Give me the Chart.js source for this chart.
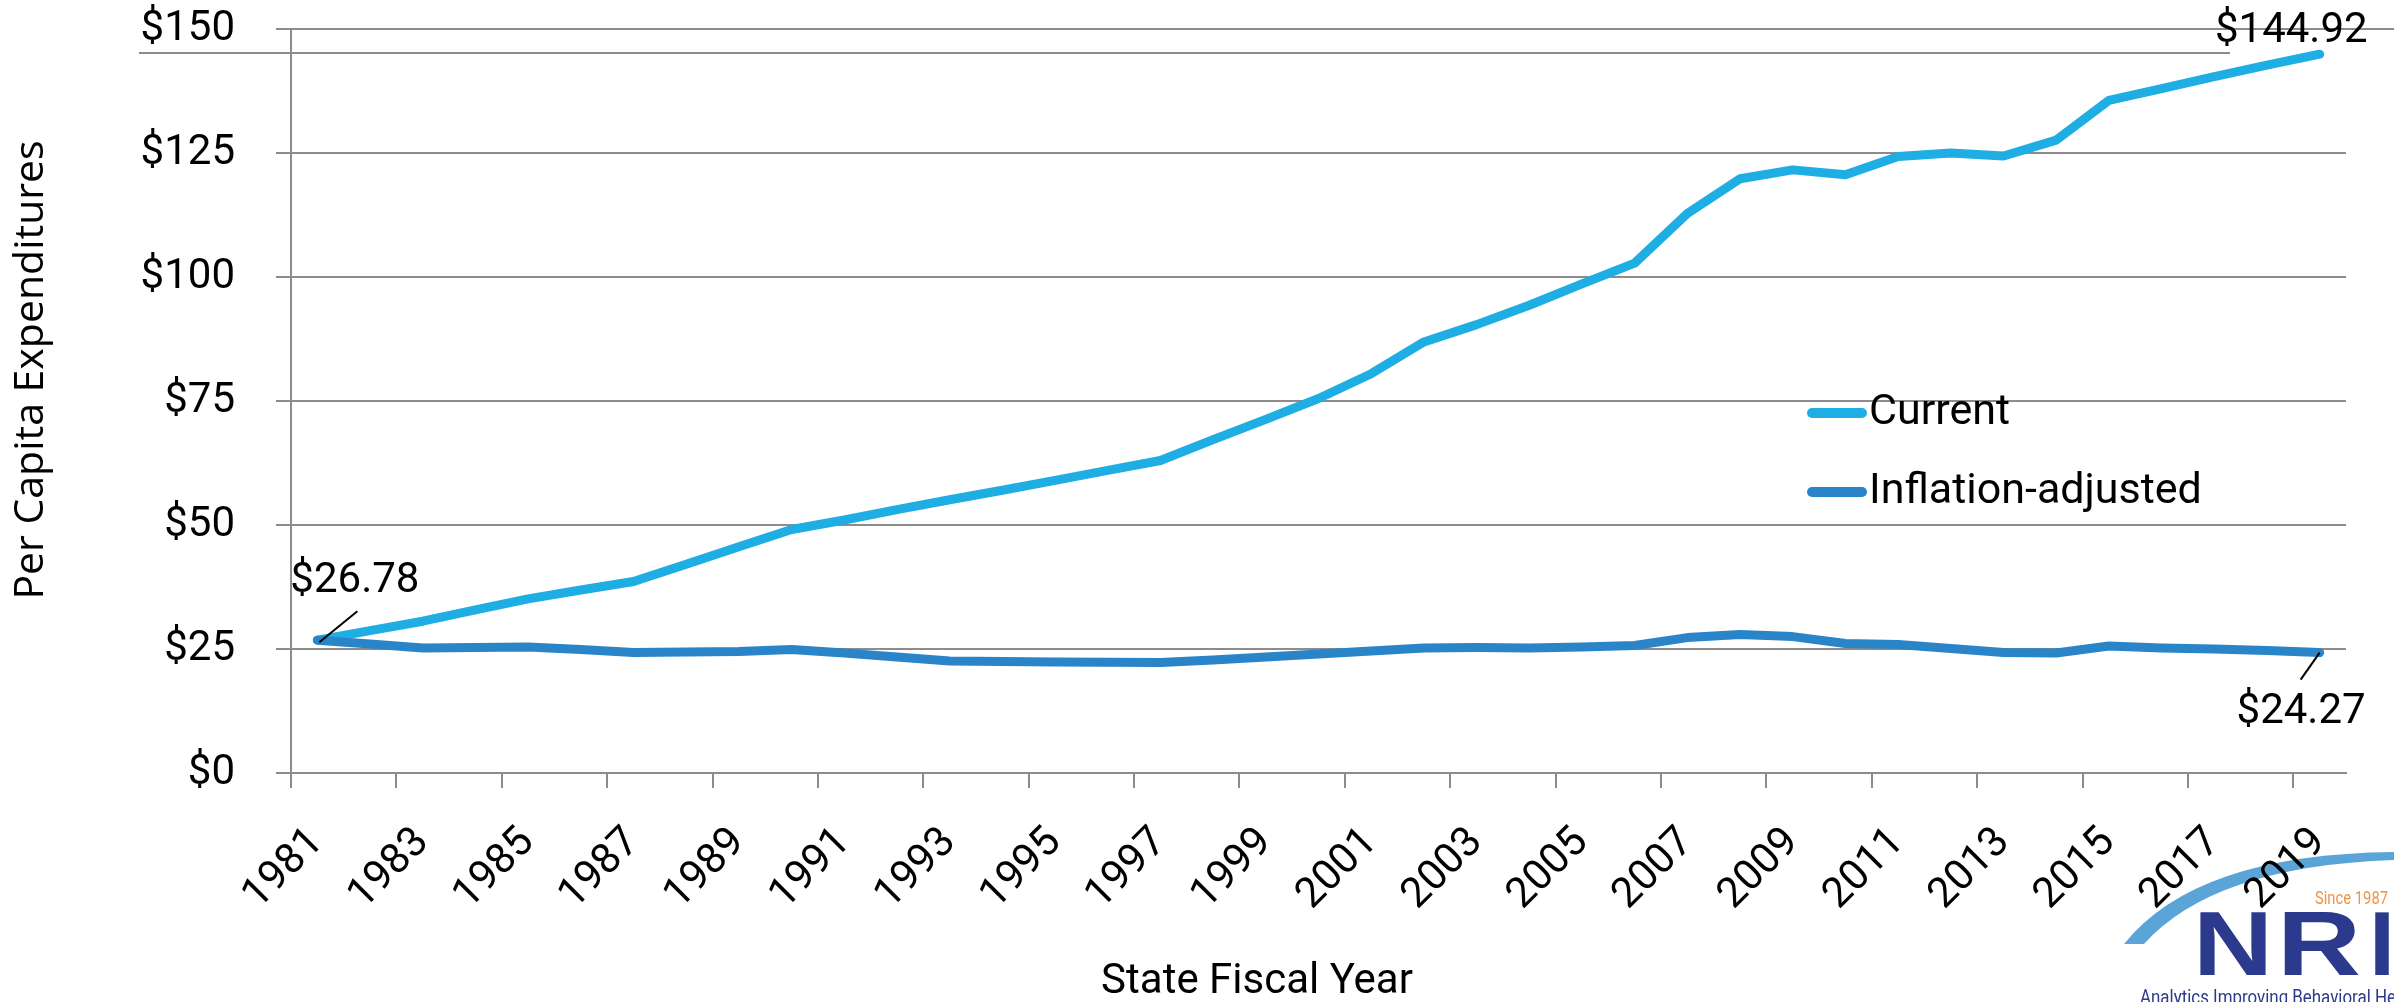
<!DOCTYPE html>
<html>
<head>
<meta charset="utf-8">
<title>Per Capita Expenditures</title>
<script src="https://cdn.jsdelivr.net/npm/chart.js@4.4.1/dist/chart.umd.min.js"></script>
<style>
  html, body { margin: 0; padding: 0; background: #fff; }
  canvas { display: block; }
</style>
</head>
<body>
<canvas id="chart" width="2394" height="1002"></canvas>
<script>
const years = [
  '1981', '1982', '1983', '1984', '1985', '1986', '1987', '1988', '1989', '1990',
  '1991', '1992', '1993', '1994', '1995', '1996', '1997', '1998', '1999', '2000',
  '2001', '2002', '2003', '2004', '2005', '2006', '2007', '2008', '2009', '2010',
  '2011', '2012', '2013', '2014', '2015', '2016', '2017', '2018', '2019'
]

const current = [
  26.78, 28.7, 30.6, 32.9, 35.1, 36.9, 38.6, 42.1, 45.6, 49.1,
  51.0, 53.1, 55.1, 57.0, 59.0, 61.0, 63.0, 67.2, 71.3, 75.5,
  80.5, 86.9, 90.4, 94.3, 98.6, 102.8, 112.8, 119.8, 121.6, 120.6,
  124.3, 125.0, 124.4, 127.6, 135.6, 138.0, 140.4, 142.7, 144.92
]

const inflationAdjusted = [
  26.78, 26.0, 25.2, 25.3, 25.4, 24.9, 24.3, 24.4, 24.5, 24.9,
  24.2, 23.4, 22.6, 22.5, 22.4, 22.35, 22.3, 22.8, 23.4, 24.0,
  24.6, 25.2, 25.3, 25.2, 25.4, 25.7, 27.3, 27.9, 27.5, 26.1,
  25.9, 25.1, 24.3, 24.2, 25.6, 25.2, 25.0, 24.7, 24.27
]

const yTicks = [0, 25, 50, 75, 100, 125, 150]

const GRID = '#8c8c8c'
const LABEL_FONT = 'Roboto, "Liberation Sans", sans-serif'
const TITLE_FONT = '"Open Sans", "Noto Sans", sans-serif'

const money = v => '$' + v.toFixed(2)

// draws text squeezed or stretched horizontally to a given width
function fitText(ctx, text, x, y, width) {
  const w = ctx.measureText(text).width
  ctx.save()
  ctx.translate(x, y)
  ctx.scale(width / w, 1)
  ctx.fillText(text, 0, 0)
  ctx.restore()
}

// NRI logo in the bottom-right corner, drawn under the axis labels
function drawLogo(ctx) {
  ctx.save()
  ctx.fillStyle = '#5aa4d8'
  ctx.beginPath()
  ctx.moveTo(2124, 944)
  ctx.quadraticCurveTo(2196, 854, 2394, 852)
  ctx.lineTo(2394, 860)
  ctx.quadraticCurveTo(2214, 866, 2144, 944)
  ctx.closePath()
  ctx.fill()

  ctx.textBaseline = 'alphabetic'
  ctx.fillStyle = '#ee9544'
  ctx.font = '18px ' + LABEL_FONT
  fitText(ctx, 'Since 1987', 2315, 904, 73)

  ctx.fillStyle = '#2b3a8c'
  ctx.font = 'bold 91px "Liberation Sans", Arial, sans-serif'
  fitText(ctx, 'N', 2193, 975, 80)
  fitText(ctx, 'R', 2277, 975, 84)
  fitText(ctx, 'I', 2369, 975, 26)

  ctx.font = '21px ' + LABEL_FONT
  const tag = 'Analytics Improving Behavioral '
  const squeeze = 256 / ctx.measureText(tag + 'He').width
  ctx.save()
  ctx.translate(2140, 1004)
  ctx.scale(squeeze, 1)
  ctx.fillText(tag + 'Health', 0, 0)
  ctx.restore()
  ctx.restore()
}

const decorations = {
  id: 'decorations',
  beforeDraw(chart) {
    const ctx = chart.ctx
    const area = chart.chartArea
    ctx.save()
    ctx.fillStyle = '#fff'
    ctx.fillRect(0, 0, chart.width, chart.height)
    drawLogo(ctx)

    // rule lines across the top of the slide
    const top = chart.scales.y.getPixelForValue(150)
    ctx.strokeStyle = GRID
    ctx.lineWidth = 2
    ctx.beginPath()
    ctx.moveTo(area.right, top)
    ctx.lineTo(chart.width, top)
    ctx.moveTo(139, 53)
    ctx.lineTo(2230, 53)
    ctx.stroke()
    ctx.restore()
  },
  afterDraw(chart) {
    const ctx = chart.ctx
    ctx.save()
    ctx.fillStyle = '#000'

    // axis titles
    ctx.font = '41px ' + TITLE_FONT
    ctx.textAlign = 'center'
    ctx.textBaseline = 'middle'
    ctx.save()
    ctx.translate(31, 370)
    ctx.rotate(-Math.PI / 2)
    ctx.fillText('Per Capita Expenditures', 0, 0)
    ctx.restore()
    ctx.font = '42px ' + LABEL_FONT
    ctx.fillText('State Fiscal Year', 1257, 982)

    // legend
    ctx.font = '43px ' + LABEL_FONT
    chart.data.datasets.forEach((ds, i) => {
      const y = 413 + i * 79
      ctx.strokeStyle = ds.borderColor
      ctx.lineWidth = 10
      ctx.lineCap = 'round'
      ctx.beginPath()
      ctx.moveTo(1812, y)
      ctx.lineTo(1862, y)
      ctx.stroke()
      ctx.textAlign = 'left'
      ctx.fillText(ds.label, 1869, y)
    })

    // value callouts at the ends of the lines
    ctx.font = '42px ' + LABEL_FONT
    const first = chart.getDatasetMeta(0).data[0]
    const last = chart.getDatasetMeta(0).data[current.length - 1]
    const lastAdj = chart.getDatasetMeta(1).data[inflationAdjusted.length - 1]
    ctx.strokeStyle = '#000'
    ctx.lineWidth = 2
    ctx.lineCap = 'butt'

    ctx.textAlign = 'left'
    ctx.fillText(money(current[0]), first.x - 27, first.y - 59)
    ctx.beginPath()
    ctx.moveTo(first.x + 2, first.y + 2)
    ctx.lineTo(first.x + 40, first.y - 29)
    ctx.stroke()

    ctx.textAlign = 'right'
    ctx.fillText(money(current[current.length - 1]), last.x + 48, last.y - 23)

    ctx.fillText(money(inflationAdjusted[inflationAdjusted.length - 1]), lastAdj.x + 46, lastAdj.y + 60)
    ctx.beginPath()
    ctx.moveTo(lastAdj.x, lastAdj.y)
    ctx.lineTo(lastAdj.x - 19, lastAdj.y + 27)
    ctx.stroke()
    ctx.restore()
  }
}

new Chart(document.getElementById('chart'), {
  type: 'line',
  data: {
    labels: years,
    datasets: [
      {
        label: 'Current',
        data: current,
        borderColor: '#1eaee4',
        backgroundColor: '#1eaee4',
        borderWidth: 9,
        pointRadius: 0,
        tension: 0,
        borderCapStyle: 'round',
        borderJoinStyle: 'round',
        order: 1
      },
      {
        label: 'Inflation-adjusted',
        data: inflationAdjusted,
        borderColor: '#2a84c8',
        backgroundColor: '#2a84c8',
        borderWidth: 9,
        pointRadius: 0,
        tension: 0,
        borderCapStyle: 'round',
        borderJoinStyle: 'round',
        order: 0
      }
    ]
  },
  options: {
    responsive: false,
    animation: false,
    devicePixelRatio: 1,
    layout: {
      padding: { top: 29, right: 48, bottom: 0, left: 0 }
    },
    plugins: {
      legend: { display: false },
      tooltip: { enabled: false }
    },
    scales: {
      x: {
        offset: true,
        afterFit: s => {
          s.height = 229
          s.paddingLeft = 0
          s.paddingRight = 0
        },
        border: { display: true, color: GRID, width: 2 },
        grid: {
          offset: true,
          drawOnChartArea: false,
          drawTicks: true,
          tickLength: 15,
          lineWidth: 2,
          color: c => (c.index !== undefined && c.index % 2 === 0) ? GRID : 'rgba(0,0,0,0)'
        },
        ticks: {
          autoSkip: false,
          minRotation: 45,
          maxRotation: 45,
          padding: 30,
          color: '#000',
          font: { family: LABEL_FONT, size: 42 },
          callback: (v, i) => i % 2 === 0 ? years[i] : ''
        }
      },
      y: {
        min: 0,
        max: 150,
        afterFit: s => {
          s.width = 291
          s.paddingTop = 0
          s.paddingBottom = 0
        },
        afterBuildTicks: s => { s.ticks = yTicks.map(v => ({ value: v })) },
        border: { display: true, color: GRID, width: 2 },
        grid: {
          color: GRID,
          lineWidth: 2,
          drawTicks: true,
          tickLength: 15
        },
        ticks: {
          padding: 41,
          color: '#000',
          font: { family: LABEL_FONT, size: 42 },
          callback: v => '$' + v
        }
      }
    }
  },
  plugins: [decorations]
})
</script>
</body>
</html>
